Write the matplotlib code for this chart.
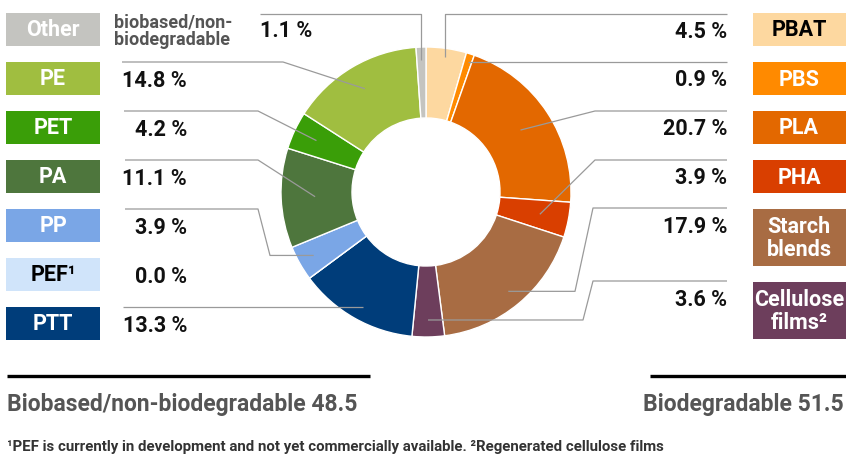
import numpy as np
import matplotlib
matplotlib.use('Agg')
import matplotlib.pyplot as plt
from matplotlib.patches import Rectangle

plt.rcParams['font.family'] = ['Roboto', 'DejaVu Sans']
plt.rcParams['font.weight'] = 'bold'

# ── 데이터 ──
# biodegradable (right side, clockwise from the top)
right_labels = ['PBAT', 'PBS', 'PLA', 'PHA', 'Starch\nblends', 'Cellulose\nfilms²']
right_values = [4.5, 0.9, 20.7, 3.9, 17.9, 3.6]
right_colors = ['#FDD8A0', '#FF8A00', '#E36800', '#D93F00', '#A86C43', '#6D3E5C']
right_txtcol = ['black', 'white', 'white', 'white', 'white', 'white']

# biobased / non-biodegradable (left side, top to bottom)
left_labels = ['Other', 'PE', 'PET', 'PA', 'PP', 'PEF¹', 'PTT']
left_values = [1.1, 14.8, 4.2, 11.1, 3.9, 0.0, 13.3]
left_colors = ['#C4C4C0', '#A0BE40', '#3A9E08', '#4E763D', '#7AA6E6', '#D0E4FA', '#003D7A']
left_txtcol = ['white', 'white', 'white', 'white', 'white', 'black', 'white']

group_names = ['Biobased/non-biodegradable', 'Biodegradable']
group_totals = [48.5, 51.5]

footnote = ('¹PEF is currently in development and not yet commercially available. '
            '²Regenerated cellulose films')

# ── 레이아웃 (pixel) ──
W, H = 846, 455
CX, CY = 426, 192
R_OUT, R_IN = 145, 74
GRAY_LINE = '#9A9A9A'

fig = plt.figure(figsize=(W / 100, H / 100), dpi=100)
ax = fig.add_axes([0, 0, 1, 1])

pie_vals = right_values + left_values[::-1]
pie_cols = right_colors + left_colors[::-1]
ax.pie(pie_vals, colors=pie_cols, center=(CX, CY), radius=R_OUT,
       startangle=-90, counterclock=True,
       wedgeprops=dict(width=R_OUT - R_IN, edgecolor='white', linewidth=1.0))
ax.set_xlim(0, W)
ax.set_ylim(H, 0)
ax.set_aspect('equal')
ax.axis('off')

# mid-angle of each slice (clockwise from top)
total = sum(pie_vals)
cum = np.cumsum(pie_vals)
mid_deg = 360 * (cum - np.array(pie_vals) / 2) / total
right_mid = mid_deg[:len(right_values)]
left_mid = mid_deg[len(right_values):][::-1]


def end_point(deg, r):
    a = np.radians(deg)
    return CX + r * np.sin(a), CY - r * np.cos(a)


def leader(x0, ly, deg, r, kind, bx=None, bx2=None):
    ex, ey = end_point(deg, r)
    if kind == 'straight':
        pts = [(x0, ly), (ex, ly)]
    elif kind == 'vert':
        pts = [(x0, ly), (ex, ly), (ex, ey)]
    elif kind == 'diag':
        pts = [(x0, ly), (bx, ly), (ex, ey)]
    else:  # dogleg
        pts = [(x0, ly), (bx, ly), (bx2, ey), (ex, ey)]
    xs, ys = zip(*pts)
    ax.plot(xs, ys, color=GRAY_LINE, lw=0.9, solid_capstyle='butt')


# ── 왼쪽: 박스 + 퍼센트 ──
left_lead = [  # line_y, x0, r, kind, bend, bend2
    (14, 260, 132, 'vert', None, None),
    (62, 122, 120, 'diag', 283, None),
    (111, 124, 121, 'diag', 258, None),
    (160, 125, 111, 'diag', 258, None),
    (209, 125, 129, 'dogleg', 258, 270),
    None,
    (307, 123, 127, 'straight', None, None),
]
for i, (lab, val, col, tc) in enumerate(zip(left_labels, left_values, left_colors, left_txtcol)):
    top = 13 + 49 * i
    ax.add_patch(Rectangle((6, top), 94, 33, facecolor=col, edgecolor='none'))
    ax.text(53, top + 17, lab, color=tc, fontsize=15.5, ha='center', va='center')
    if i == 0:
        ax.text(260, top + 18, f'{val:.1f} %', fontsize=15.5, ha='left', va='center', color='#111111')
    else:
        ax.text(187, top + 19, f'{val:.1f} %', fontsize=15.5, ha='right', va='center', color='#111111')
    spec = left_lead[i]
    if spec is not None:
        ly, x0, r, kind, bx, bx2 = spec
        leader(x0, ly, left_mid[i], r, kind, bx, bx2)

ax.text(114, 31, 'biobased/non-\nbiodegradable', fontsize=13, color='#555555',
        ha='left', va='center', linespacing=0.95)

# ── 오른쪽: 박스 + 퍼센트 ──
right_box = [(13, 33), (62, 33), (111, 33), (160, 33), (209, 57), (282, 57)]
right_pct_y = [32, 80, 129, 178, 227, 300]
right_lead = [
    (14, 136, 'vert', None, None),
    (62, 136, 'straight', None, None),
    (111, 113, 'diag', 595, None),
    (160, 116, 'diag', 595, None),
    (208, 129, 'dogleg', 593, 575),
    (281, 128, 'dogleg', 593, 583),
]
for i, (lab, val, col, tc) in enumerate(zip(right_labels, right_values, right_colors, right_txtcol)):
    top, hh = right_box[i]
    ax.add_patch(Rectangle((753, top), 93, hh, facecolor=col, edgecolor='none'))
    ax.text(799, top + hh / 2 + 1, lab, color=tc, fontsize=15.5, ha='center', va='center',
            linespacing=1.1)
    ax.text(727, right_pct_y[i], f'{val:.1f} %', fontsize=15.5, ha='right', va='center',
            color='#111111')
    ly, r, kind, bx, bx2 = right_lead[i]
    leader(727, ly, right_mid[i], r, kind, bx, bx2)

# ── 하단 그룹 합계 ──
ax.plot([7, 370], [376, 376], color='black', lw=2.4, solid_capstyle='butt')
ax.plot([650, 846], [376, 376], color='black', lw=2.4, solid_capstyle='butt')
ax.text(7, 404, f'{group_names[0]} {group_totals[0]}', fontsize=16.5, color='#555555',
        ha='left', va='center')
ax.text(844, 404, f'{group_names[1]} {group_totals[1]}', fontsize=16.5, color='#555555',
        ha='right', va='center')

ax.text(7, 447, footnote, fontsize=10.8, color='#333333', ha='left', va='center')

fig.savefig('out.png', dpi=100)
